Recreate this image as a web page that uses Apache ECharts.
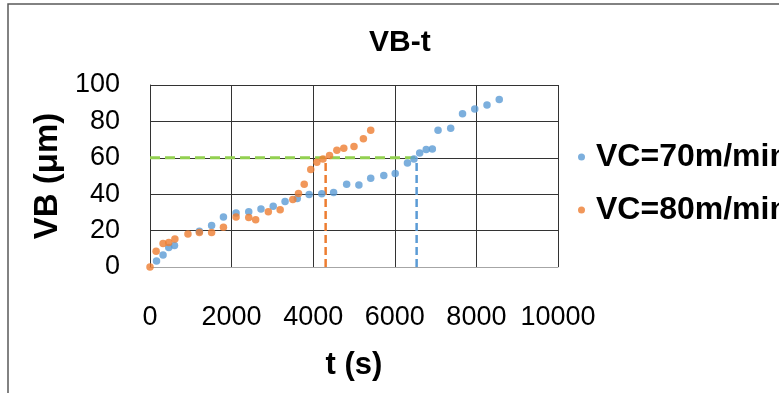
<!DOCTYPE html>
<html><head><meta charset="utf-8">
<script src="https://cdn.jsdelivr.net/npm/echarts@6/dist/echarts.min.js"></script>
<style>html,body{margin:0;padding:0;background:#fff}#c{width:779px;height:393px}</style>
</head><body><div id="c"></div>
<script>
const FONT = '"Liberation Sans","DejaVu Sans",sans-serif';
const xTicks = [0, 2000, 4000, 6000, 8000, 10000];
const yTicks = [0, 20, 40, 60, 80, 100];
const seriesNames = ['VC=70m/min', 'VC=80m/min'];
// VC=70m/min : time (s), VB (µm)
const t70 = [160, 320, 460, 600, 1210, 1510, 1800, 2110, 2420, 2720, 3020, 3310, 3610, 3900, 4210, 4500, 4820, 5120, 5410, 5730, 6010, 6310, 6470, 6610, 6770, 6920, 7060, 7370, 7660, 7960, 8260, 8560];
const vb70 = [3.3, 6.6, 10.7, 11.8, 19.6, 22.8, 27.5, 29.7, 30.3, 31.8, 33.4, 36.0, 37.6, 39.8, 40.2, 40.9, 45.5, 45.0, 48.8, 50.3, 51.4, 57.1, 59.3, 62.6, 64.6, 64.9, 75.2, 76.2, 84.2, 86.8, 89.0, 92.1];
// VC=80m/min
const t80 = [0, 150, 320, 460, 610, 930, 1210, 1510, 1800, 2110, 2420, 2590, 2900, 3190, 3500, 3640, 3780, 3940, 4090, 4240, 4400, 4580, 4750, 5000, 5230, 5410];
const vb80 = [0, 8.6, 12.9, 13.4, 15.4, 18.2, 18.9, 18.9, 21.8, 27.5, 27.2, 25.9, 30.3, 31.4, 37.1, 40.4, 45.5, 53.6, 57.6, 59.4, 61.3, 64.1, 65.2, 66.2, 70.4, 75.2];
// reference (dashed) lines: VB = 60 µm criterion
const limitLine = [[0, 60], [6530, 60]];
const drop80 = [[4305, 0], [4305, 60]];
const drop70 = [[6535, 0], [6535, 60]];

const zip = (a, b) => a.map((v, i) => [v, b[i]]);
const chart = echarts.init(document.getElementById('c'), null, {renderer: 'canvas'});
chart.setOption({
  animation: false,
  backgroundColor: '#fff',
  title: {
    text: 'VB-t', left: 364, top: 23,
    textStyle: {fontFamily: FONT, fontSize: 30, fontWeight: 'bold', color: '#000'}
  },
  graphic: [{
    type: 'rect', shape: {x: 8, y: 4, width: 800, height: 420},
    style: {fill: 'none', stroke: '#595959', lineWidth: 1.5}, silent: true
  }],
  legend: {
    data: seriesNames, orient: 'vertical', left: 573, top: 134,
    icon: 'circle', itemWidth: 7, itemHeight: 7, itemGap: 17,
    textStyle: {fontFamily: FONT, fontSize: 32, fontWeight: 'bold', color: '#000', lineHeight: 36, padding: [0, 0, 0, 6]}
  },
  grid: {left: 150, top: 85, width: 408, height: 182},
  xAxis: {
    type: 'value', min: 0, max: 10000, interval: 2000,
    name: 't (s)', nameLocation: 'middle', nameGap: 83,
    nameTextStyle: {fontFamily: FONT, fontSize: 31, fontWeight: 'bold', color: '#000'},
    axisLine: {show: true, lineStyle: {color: '#a6a6a6', width: 1}},
    axisTick: {show: false},
    axisLabel: {margin: 37, fontFamily: FONT, fontSize: 27, color: '#000',
      formatter: v => xTicks.includes(v) ? String(v) : ''},
    splitLine: {show: true, lineStyle: {color: '#333', width: 1}}
  },
  yAxis: {
    type: 'value', min: 0, max: 100, interval: 20,
    name: 'VB (μm)', nameLocation: 'middle', nameGap: 83, nameRotate: 90,
    nameTextStyle: {fontFamily: FONT, fontSize: 33, fontWeight: 'bold', color: '#000'},
    axisLine: {show: true, lineStyle: {color: '#333', width: 1}},
    axisTick: {show: false},
    axisLabel: {margin: 30, fontFamily: FONT, fontSize: 27, color: '#000',
      formatter: v => yTicks.includes(v) ? String(v) : ''},
    splitLine: {show: true, lineStyle: {color: '#333', width: 1}}
  },
  series: [
    {name: 'limit', type: 'line', data: limitLine, symbol: 'none', silent: true, z: 3,
      lineStyle: {color: '#92d050', width: 3, type: [10, 5]}},
    {name: 'drop80', type: 'line', data: drop80, symbol: 'none', silent: true, z: 3,
      lineStyle: {color: '#ed7d31', width: 2.5, type: [8, 4]}},
    {name: 'drop70', type: 'line', data: drop70, symbol: 'none', silent: true, z: 3,
      lineStyle: {color: '#5b9bd5', width: 2.5, type: [8, 4]}},
    {name: seriesNames[0], type: 'scatter', data: zip(t70, vb70), symbol: 'circle', symbolSize: 7.5, z: 4,
      itemStyle: {color: '#5b9bd5'}},
    {name: seriesNames[1], type: 'scatter', data: zip(t80, vb80), symbol: 'circle', symbolSize: 7.5, z: 5,
      itemStyle: {color: '#ed7d31'}}
  ]
});
</script></body></html>
